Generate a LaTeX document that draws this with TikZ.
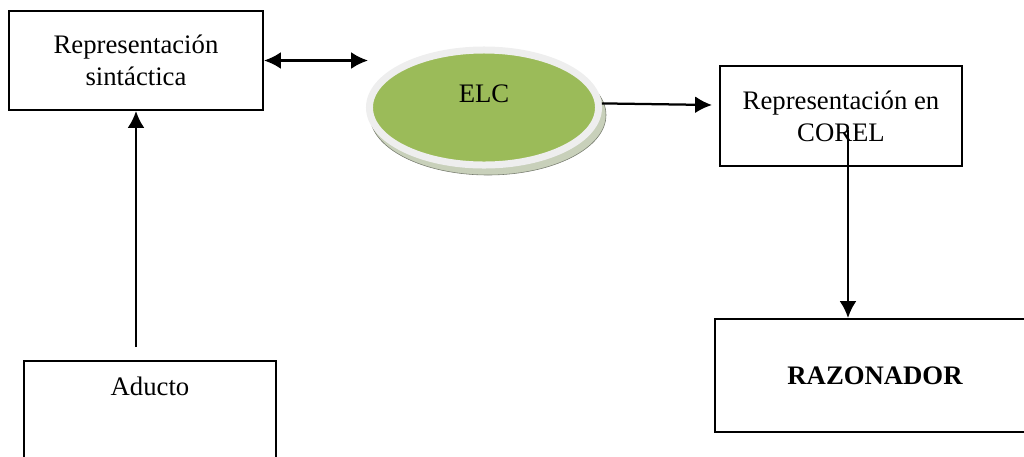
\documentclass[tikz,border=0pt]{standalone}
\usepackage{fontspec}
\setmainfont{Liberation Serif}
\usetikzlibrary{arrows.meta,shapes.geometric}
\definecolor{elcgreen}{RGB}{155,187,89}
\definecolor{elcbase}{RGB}{200,208,186}
\definecolor{elcrim}{RGB}{238,238,238}
\tikzset{
  caja/.style={draw, line width=1.4pt, align=center, inner sep=0pt,
    font=\fontsize{19}{22.8}\selectfont},
  conector/.style={line width=1.6pt},
}
\begin{document}
\begin{tikzpicture}[>={Latex[length=12pt,width=12pt]}, x=0.025cm, y=-0.025cm]
  \clip (0,0) rectangle (1024,456);
  % cajas
  \node[caja, minimum width=6.35cm, minimum height=2.475cm] (sint) at (136,60.5) {Representación\\sintáctica};
  \node[caja, minimum width=6.05cm, minimum height=2.5cm] (corel) at (841,116) {Representación en\\COREL};
  \node[caja, minimum width=8cm, minimum height=2.825cm, font=\fontsize{19}{22.8}\selectfont\bfseries] (raz) at (875,375.5) {RAZONADOR};
  \node[caja, minimum width=6.3cm, minimum height=2.7cm, text depth=1.45cm] (aducto) at (150,415) {Aducto};
  % elipse ELC
  \filldraw[fill=elcbase, draw=elcbase!60!black, line width=0.4pt] (488,115) ellipse [x radius=118, y radius=60];
  \node[ellipse, fill=elcgreen, draw=elcrim, line width=0.175cm, inner sep=0pt,
    minimum width=5.725cm, minimum height=2.875cm, text depth=0.7cm,
    font=\fontsize{19}{22.8}\selectfont] (elc) at (484,107.5) {ELC};
  % conectores
  \coordinate (elcin) at (368,61);
  \coordinate (corelin) at (712,105);
  \coordinate (corelout) at (848,130);
  \coordinate (aductoout) at (136,347);
  \draw[<->, conector] (sint.east) -- (sint.east -| elcin);
  \draw[->, conector] (elc.2) -- (corelin);
  \draw[->, conector] (corelout) -- (corelout |- raz.north);
  \draw[->, conector] (aductoout) -- (sint.south);
\end{tikzpicture}
\end{document}
